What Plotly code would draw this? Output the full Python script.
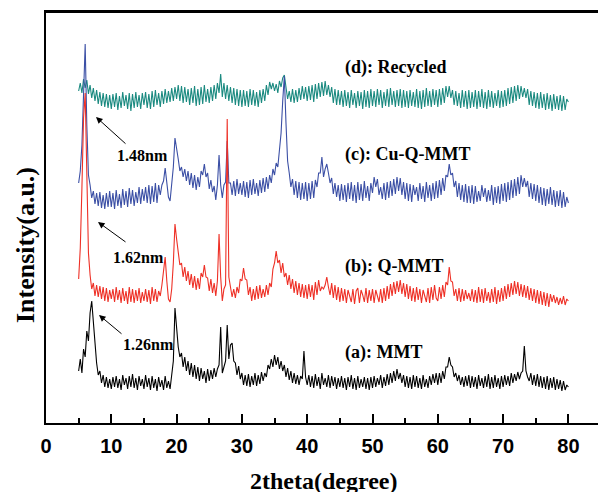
import plotly.graph_objects as go

# 2theta sampling grid: 5.00 .. 80.00 deg in 0.25 deg steps
TWO_THETA_START = 5.0
TWO_THETA_STEP = 0.25
N_POINTS = 301
two_theta = [TWO_THETA_START + TWO_THETA_STEP * i for i in range(N_POINTS)]

# (a) MMT  (offset intensity, arbitrary units)
mmt = [
    52, 64, 50, 74, 66, 92, 82, 110, 122, 102, 76, 60, 48, 52, 40, 48, 36, 46, 35, 44,
    34, 46, 36, 47, 35, 44, 33, 48, 38, 45, 34, 47, 36, 49, 35, 45, 33, 47, 37, 44,
    34, 48, 36, 45, 33, 47, 35, 44, 32, 46, 36, 43, 33, 47, 35, 42, 34, 46, 62, 115,
    90, 76, 66, 70, 56, 66, 52, 62, 48, 60, 46, 58, 44, 56, 42, 55, 44, 52, 40, 54,
    42, 53, 44, 55, 46, 54, 58, 96, 50, 56, 62, 98, 64, 78, 80, 62, 60, 48, 57, 44,
    50, 38, 48, 37, 49, 36, 47, 38, 50, 37, 48, 39, 51, 42, 50, 46, 58, 54, 64, 56,
    68, 58, 66, 54, 62, 52, 58, 46, 55, 43, 52, 40, 50, 39, 48, 38, 47, 44, 72, 46,
    38, 48, 36, 47, 35, 49, 37, 46, 34, 50, 38, 45, 36, 48, 35, 47, 37, 46, 34, 45,
    36, 47, 35, 45, 33, 46, 36, 48, 34, 45, 33, 47, 35, 44, 36, 46, 34, 45, 33, 46,
    35, 47, 36, 45, 38, 48, 35, 46, 37, 49, 38, 50, 40, 52, 42, 54, 44, 50, 40, 48,
    36, 47, 35, 46, 34, 48, 36, 47, 35, 45, 34, 48, 36, 44, 35, 47, 38, 49, 40, 50,
    38, 50, 40, 52, 44, 56, 56, 66, 58, 56, 46, 50, 42, 48, 38, 46, 36, 47, 37, 48,
    35, 47, 36, 46, 34, 48, 37, 45, 35, 47, 36, 49, 34, 46, 35, 48, 36, 45, 34, 47,
    36, 48, 38, 47, 37, 50, 40, 49, 42, 51, 44, 50, 52, 77, 52, 46, 42, 50, 38, 48,
    37, 49, 36, 47, 35, 46, 34, 47, 33, 45, 35, 46, 33, 44, 34, 43, 32, 42, 33, 38,
    36,
]

# (b) Q-MMT
q_mmt = [
    144, 175, 235, 305, 330, 245, 170, 148, 134, 140, 127, 138, 126, 137, 124, 136, 122, 135, 121, 133,
    124, 134, 121, 136, 123, 133, 120, 135, 122, 132, 119, 136, 121, 134, 120, 133, 122, 135, 120, 131,
    122, 134, 121, 133, 119, 136, 122, 134, 121, 132, 127, 138, 150, 166, 142, 124, 121, 134, 160, 199,
    184, 170, 158, 160, 146, 156, 142, 152, 138, 149, 135, 147, 133, 145, 134, 150, 146, 158, 146, 145,
    132, 144, 130, 140, 127, 142, 189, 146, 122, 134, 138, 304, 146, 136, 126, 134, 125, 136, 130, 144,
    142, 155, 144, 143, 128, 136, 122, 134, 123, 137, 124, 138, 125, 134, 126, 138, 128, 140, 136, 154,
    160, 172, 160, 163, 150, 160, 146, 150, 138, 148, 134, 144, 130, 142, 128, 140, 126, 139, 125, 138,
    124, 139, 126, 138, 123, 141, 128, 143, 132, 136, 134, 138, 146, 136, 128, 140, 125, 138, 123, 136,
    121, 135, 122, 134, 120, 133, 127, 121, 134, 119, 132, 135, 120, 133, 128, 121, 135, 120, 133, 122,
    134, 120, 133, 127, 121, 134, 120, 135, 122, 137, 124, 139, 127, 141, 129, 142, 131, 143, 129, 140,
    126, 139, 124, 137, 122, 135, 121, 136, 123, 134, 120, 133, 127, 121, 135, 120, 136, 123, 138, 125,
    122, 136, 124, 138, 126, 141, 138, 156, 142, 141, 127, 134, 122, 135, 121, 134, 122, 133, 124, 130,
    122, 134, 121, 133, 120, 136, 121, 134, 120, 135, 122, 131, 120, 134, 121, 136, 119, 133, 121, 135,
    122, 137, 124, 139, 126, 140, 128, 142, 129, 141, 127, 139, 126, 138, 125, 137, 123, 135, 122, 134,
    120, 133, 119, 132, 118, 131, 117, 130, 116, 129, 121, 128, 120, 126, 118, 125, 119, 127, 118, 124,
    122,
]

# (c) Cu-Q-MMT
cu_q_mmt = [
    240, 252, 278, 322, 379, 298, 248, 238, 225, 232, 219, 230, 217, 231, 215, 228, 214, 230, 216, 232,
    216, 230, 214, 233, 217, 229, 215, 234, 218, 232, 216, 235, 219, 233, 217, 231, 220, 236, 219, 234,
    222, 236, 220, 238, 219, 237, 221, 240, 220, 238, 228, 238, 242, 255, 240, 226, 222, 238, 256, 285,
    272, 264, 252, 256, 246, 254, 242, 252, 238, 250, 235, 248, 233, 246, 236, 252, 248, 259, 246, 250,
    234, 243, 231, 237, 223, 238, 268, 238, 225, 238, 241, 282, 240, 240, 228, 242, 227, 244, 229, 240,
    228, 242, 226, 241, 225, 243, 228, 244, 229, 240, 227, 243, 230, 245, 231, 246, 234, 248, 240, 254,
    248, 260, 256, 272, 290, 322, 347, 300, 262, 250, 236, 244, 228, 242, 225, 241, 223, 240, 224, 241,
    222, 240, 224, 242, 225, 243, 236, 250, 250, 266, 246, 254, 259, 250, 240, 245, 229, 240, 226, 238,
    222, 239, 223, 238, 221, 240, 224, 241, 222, 238, 220, 241, 223, 239, 222, 242, 225, 237, 222, 240,
    230, 246, 236, 244, 228, 236, 224, 240, 223, 241, 225, 242, 227, 244, 229, 246, 232, 245, 228, 241,
    224, 240, 222, 239, 221, 238, 228, 236, 222, 240, 224, 237, 221, 241, 225, 238, 222, 240, 224, 242,
    225, 243, 228, 245, 232, 248, 246, 259, 248, 250, 236, 242, 226, 240, 223, 238, 221, 239, 220, 237,
    220, 238, 219, 237, 221, 232, 222, 238, 226, 235, 221, 233, 222, 238, 218, 236, 220, 237, 219, 239,
    222, 240, 221, 241, 223, 243, 225, 244, 227, 246, 229, 248, 236, 245, 236, 242, 226, 240, 224, 239,
    222, 238, 220, 236, 218, 235, 217, 234, 219, 236, 218, 233, 216, 232, 217, 233, 215, 231, 216, 226,
    220,
]

# (d) Recycled
recycled = [
    332, 340, 330, 344, 335, 343, 329, 338, 325, 335, 322, 333, 319, 331, 317, 330, 316, 329, 315, 328,
    314, 329, 316, 330, 313, 327, 315, 331, 317, 328, 314, 330, 312, 329, 315, 331, 316, 328, 314, 330,
    318, 331, 315, 329, 314, 332, 316, 333, 318, 330, 316, 332, 319, 334, 320, 332, 321, 335, 322, 336,
    324, 338, 322, 337, 320, 336, 321, 334, 318, 335, 320, 337, 317, 334, 318, 336, 319, 338, 321, 334,
    320, 336, 322, 338, 324, 340, 330, 349, 326, 340, 324, 338, 322, 336, 320, 335, 318, 334, 317, 333,
    316, 333, 317, 332, 316, 334, 318, 333, 317, 331, 316, 333, 320, 334, 322, 338, 328, 341, 334, 340,
    332, 339, 330, 342, 336, 345, 348, 334, 324, 332, 321, 334, 320, 333, 321, 335, 323, 337, 324, 336,
    322, 337, 323, 338, 321, 339, 324, 340, 326, 341, 327, 342, 328, 338, 326, 336, 320, 334, 318, 333,
    318, 332, 316, 333, 317, 331, 315, 333, 318, 330, 315, 332, 317, 331, 314, 333, 316, 332, 315, 334,
    317, 332, 316, 334, 318, 333, 315, 331, 317, 334, 316, 335, 318, 332, 316, 333, 317, 334, 315, 333,
    316, 332, 315, 333, 317, 331, 316, 334, 315, 332, 314, 333, 316, 335, 317, 332, 316, 334, 318, 333,
    316, 334, 318, 335, 320, 337, 326, 337, 325, 333, 318, 332, 317, 330, 315, 333, 316, 332, 314, 333,
    315, 331, 316, 333, 314, 332, 316, 334, 315, 331, 314, 333, 316, 332, 315, 330, 317, 333, 315, 332,
    316, 333, 317, 335, 319, 336, 320, 337, 322, 338, 324, 337, 326, 335, 325, 334, 318, 332, 317, 331,
    315, 330, 314, 331, 315, 329, 313, 330, 314, 328, 312, 329, 314, 327, 313, 328, 312, 327, 313, 324,
    321,
]

series_names = ["(d): Recycled", "(c): Cu-Q-MMT", "(b): Q-MMT", "(a): MMT"]
series_values = [recycled, cu_q_mmt, q_mmt, mmt]
series_colors = ["#1b8a80", "#3b4fa5", "#ee3026", "#000000"]
for v in series_values:
    assert len(v) == N_POINTS, len(v)

x_tick_values = [0, 10, 20, 30, 40, 50, 60, 70, 80]
x_tick_labels = ["0", "10", "20", "30", "40", "50", "60", "70", "80"]

# layout geometry (pixels)
W, H = 598, 492
ML, MR, MT, MB = 46, 0, 12, 69
PW, PH = W - ML - MR, H - MT - MB
PX_PER_DEG = 6.53


def px(xp):
    return (xp - ML) / PW


def py(yp):
    return (H - MB - yp) / PH


fig = go.Figure()
for name, vals, col in zip(series_names, series_values, series_colors):
    fig.add_trace(go.Scatter(x=two_theta, y=vals, mode="lines", name=name,
                             line=dict(color=col, width=1.1), showlegend=False))

serif = "Liberation Serif, Times New Roman, serif"
ann = []
# sample labels
for text, yy in [("(d): Recycled", 68), ("(c): Cu-Q-MMT", 154), ("(b): Q-MMT", 266), ("(a): MMT", 352)]:
    ann.append(dict(text=text, xref="paper", yref="paper", x=px(343), y=py(yy),
                    xanchor="left", yanchor="middle", showarrow=False,
                    font=dict(family=serif, size=18, color="black", weight="bold")))
# d-spacing labels
for text, xx, yy in [("1.48nm", 142, 155), ("1.62nm", 138, 257), ("1.26nm", 148, 344)]:
    ann.append(dict(text=text, xref="paper", yref="paper", x=px(xx), y=py(yy),
                    xanchor="center", yanchor="middle", showarrow=False,
                    font=dict(family=serif, size=16, color="black", weight="bold")))
# arrows (head, tail) in pixels
for (hx, hy), (tx, ty) in [((96, 117), (127, 145)), ((98, 222), (127, 243)), ((99, 315), (123, 335))]:
    ann.append(dict(text="", xref="paper", yref="paper", x=px(hx), y=py(hy),
                    axref="pixel", ayref="pixel", ax=tx - hx, ay=ty - hy,
                    showarrow=True, arrowhead=2, arrowsize=1.3, arrowwidth=1,
                    arrowcolor="black", standoff=0))
# axis titles
ann.append(dict(text="2theta(degree)", xref="paper", yref="paper", x=px(324), y=py(481),
                xanchor="center", yanchor="middle", showarrow=False,
                font=dict(family=serif, size=24, color="black", weight="bold")))
ann.append(dict(text="Intensity(a.u.)", xref="paper", yref="paper", x=px(25), y=py(245),
                xanchor="center", yanchor="middle", showarrow=False, textangle=-90,
                font=dict(family=serif, size=26, color="black", weight="bold")))

fig.update_layout(
    width=W, height=H,
    margin=dict(l=ML, r=MR, t=MT, b=MB, pad=0, autoexpand=False),
    paper_bgcolor="white", plot_bgcolor="white",
    annotations=ann,
    shapes=[dict(type="line", xref="paper", yref="paper", x0=0, x1=1, y0=1, y1=1,
                 line=dict(color="black", width=2))],
    xaxis=dict(range=[0, PW / PX_PER_DEG], showgrid=False, zeroline=False,
               showline=True, linecolor="black", linewidth=2, mirror=True,
               ticks="inside", ticklen=9, tickwidth=2, tickcolor="black",
               tickvals=x_tick_values, ticktext=x_tick_labels,
               minor=dict(ticks="inside", ticklen=5, tickwidth=2, tickcolor="black", dtick=5, tick0=0),
               tickfont=dict(family="Liberation Sans, Arial, sans-serif", size=20, color="black", weight="bold"),
               ticklabelstandoff=4, automargin=False),
    yaxis=dict(range=[0, PH], showgrid=False, zeroline=False, showticklabels=False,
               showline=True, linecolor="black", linewidth=2, ticks="", automargin=False),
)

fig.write_html("out.html", config={"displayModeBar": False},
               post_script="document.body.style.margin='0';document.body.style.padding='0';"
                           "document.body.style.overflow='hidden';window.dispatchEvent(new Event('resize'));")
